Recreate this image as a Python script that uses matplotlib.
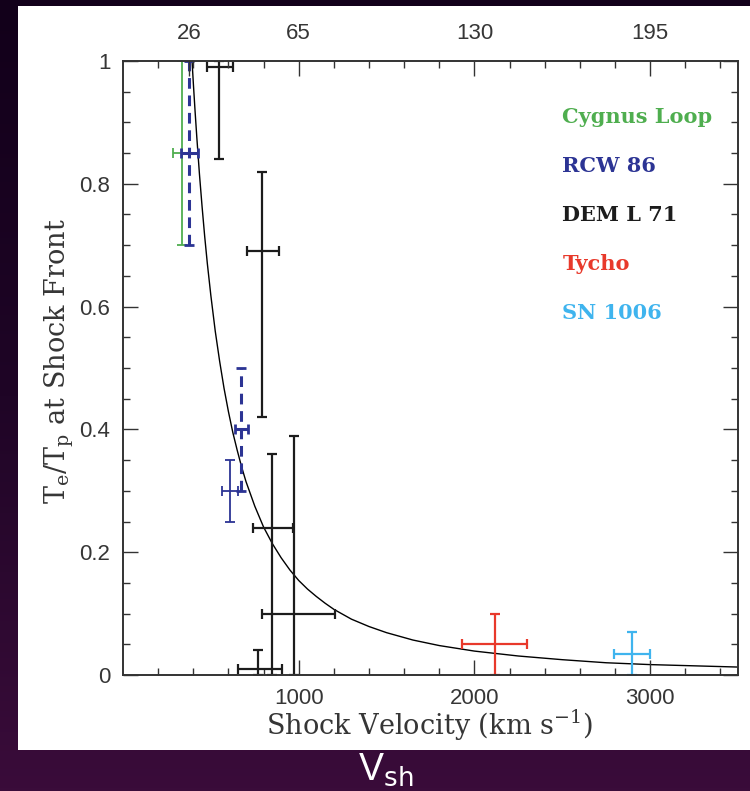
import numpy as np
import matplotlib
matplotlib.use('Agg')
import matplotlib.pyplot as plt
from matplotlib.patches import Rectangle

# --- data (velocity in km/s, Te/Tp) ---
cyg_v = [334]
cyg_verr = [50]
cyg_ratio = [0.85]
cyg_rerr = [0.15]

rcw_dash_v = [376, 672]
rcw_dash_verr = [48, 37]
rcw_dash_ratio = [0.85, 0.40]
rcw_dash_rerr = [0.15, 0.10]

rcw_v = [609]
rcw_verr = [48]
rcw_ratio = [0.30]
rcw_rerr = [0.05]

dem_v = [546, 791, 847, 973, 768]
dem_verr_lo = [68, 86, 107, 182, 113]
dem_verr_hi = [80, 97, 121, 234, 137]
dem_ratio = [0.99, 0.69, 0.24, 0.10, 0.01]
dem_rerr_lo = [0.15, 0.27, 0.24, 0.10, 0.01]
dem_rerr_hi = [0.01, 0.13, 0.12, 0.29, 0.03]

tycho_v = [2115]
tycho_verr = [185]
tycho_ratio = [0.05]
tycho_rerr = [0.05]

sn1006_v = [2897]
sn1006_verr = [103]
sn1006_ratio = [0.035]
sn1006_rerr = [0.035]

# model curve, points
curve_v = [393, 400, 410, 420, 435, 450, 465, 480, 500, 525, 550, 575, 600,
           625, 650, 675, 700, 750, 800, 850, 900, 950, 1000, 1050, 1100,
           1150, 1200, 1300, 1400, 1500, 1650, 1800, 2000, 2250, 2500, 2750,
           3000, 3250, 3500]
curve_ratio = [1.000, 0.965, 0.919, 0.876, 0.816, 0.763, 0.714, 0.670, 0.618,
               0.560, 0.511, 0.467, 0.429, 0.395, 0.366, 0.339, 0.315, 0.275,
               0.241, 0.214, 0.191, 0.171, 0.154, 0.140, 0.128, 0.117, 0.107,
               0.091, 0.079, 0.069, 0.057, 0.048, 0.039, 0.031, 0.025, 0.020,
               0.017, 0.015, 0.013]

top_tick_pos = [375, 1000, 2000, 3000]
top_tick_labels = ['26', '65', '130', '195']

names = ['Cygnus Loop', 'RCW 86', 'DEM L 71', 'Tycho', 'SN 1006']
GREEN = '#4fae4f'
BLUE = '#2c3494'
BLACK = '#1c1c1c'
RED = '#e8392b'
CYAN = '#3fb4ee'
colors = [GREEN, BLUE, BLACK, RED, CYAN]
TEXT = '#363636'

SERIF = 'DejaVu Serif'
SANS = 'Liberation Sans'
plt.rcParams['mathtext.fontset'] = 'custom'
plt.rcParams['mathtext.rm'] = SERIF
plt.rcParams['mathtext.it'] = SERIF


def main():
    fig = plt.figure(figsize=(7.5, 7.91), dpi=100)

    # dark purple backdrop with the white panel on top
    bg = fig.add_axes([0, 0, 1, 1])
    grad = np.linspace(0, 1, 256)[:, None]
    cmap = matplotlib.colors.LinearSegmentedColormap.from_list(
        'bg', ['#3a0c3a', '#1f0526', '#12001a'])
    bg.imshow(grad, aspect='auto', cmap=cmap, extent=[0, 1, 0, 1], origin='lower')
    bg.add_patch(Rectangle((0.024, 0.052), 0.976, 0.9405, facecolor='white',
                           edgecolor='none'))
    bg.set_xlim(0, 1)
    bg.set_ylim(0, 1)
    bg.axis('off')

    ax = fig.add_axes([0.164, 0.1466, 0.82, 0.7763])
    ax.set_facecolor('white')

    ax.plot(curve_v, curve_ratio, color='black', lw=1.0, zorder=1)

    kw = dict(fmt='none', capsize=3.5, elinewidth=1.3, capthick=1.3)
    ax.errorbar(cyg_v, cyg_ratio, xerr=cyg_verr, yerr=cyg_rerr, ecolor=GREEN, **kw)
    eb = ax.errorbar(rcw_dash_v, rcw_dash_ratio, xerr=rcw_dash_verr,
                     yerr=rcw_dash_rerr, ecolor=BLUE, fmt='none', capsize=3.5,
                     elinewidth=2.2, capthick=2.0)
    eb[2][1].set_linestyle((0, (3.5, 2.2)))
    ax.errorbar(rcw_v, rcw_ratio, xerr=rcw_verr, yerr=rcw_rerr, ecolor=BLUE, **kw)
    ax.errorbar(dem_v, dem_ratio, xerr=[dem_verr_lo, dem_verr_hi],
                yerr=[dem_rerr_lo, dem_rerr_hi], ecolor=BLACK, fmt='none',
                capsize=3.5, elinewidth=1.6, capthick=1.6)
    ax.errorbar(tycho_v, tycho_ratio, xerr=tycho_verr, yerr=tycho_rerr,
                ecolor=RED, fmt='none', capsize=3.5, elinewidth=1.6, capthick=1.6)
    ax.errorbar(sn1006_v, sn1006_ratio, xerr=sn1006_verr, yerr=sn1006_rerr,
                ecolor=CYAN, fmt='none', capsize=3.5, elinewidth=1.6, capthick=1.6)

    ax.set_xlim(0, 3500)
    ax.set_ylim(0, 1)
    ax.set_xticks([1000, 2000, 3000])
    ax.set_xticklabels(['1000', '2000', '3000'])
    ax.set_xticks(np.arange(200, 3500, 200), minor=True)
    ax.set_yticks([0, 0.2, 0.4, 0.6, 0.8, 1.0])
    ax.set_yticklabels(['0', '0.2', '0.4', '0.6', '0.8', '1'])
    ax.set_yticks(np.arange(0.05, 1.0, 0.05), minor=True)
    ax.tick_params(which='both', direction='in', right=True, width=1.0,
                   color='#333333', labelsize=16, labelcolor=TEXT, pad=9)
    ax.tick_params(which='major', length=11)
    ax.tick_params(which='minor', length=5)
    for lab in ax.get_xticklabels() + ax.get_yticklabels():
        lab.set_family(SANS)
    for sp in ax.spines.values():
        sp.set_linewidth(1.4)
        sp.set_color('#333333')

    top = ax.twiny()
    top.set_xlim(ax.get_xlim())
    top.set_xticks(top_tick_pos)
    top.set_xticklabels(top_tick_labels, family=SANS)
    top.set_xticks(np.arange(200, 3500, 200), minor=True)
    top.tick_params(which='both', direction='in', width=1.0, color='#333333',
                    labelsize=16, labelcolor=TEXT, pad=12)
    top.tick_params(which='major', length=11)
    top.tick_params(which='minor', length=5)
    for sp in top.spines.values():
        sp.set_visible(False)

    # labels of the remnants
    for i, (name, c) in enumerate(zip(names, colors)):
        ax.text(2500, 0.909 - i * 0.0798, name, color=c, family=SERIF,
                weight='bold', fontsize=15, va='center', ha='left')

    fig.text(0.573, 0.083, r'Shock Velocity (km s$^{-1}$)', family=SERIF,
             fontsize=19.5, color=TEXT, ha='center', va='center')
    fig.text(0.079, 0.543, r'T$_{\rm e}$/T$_{\rm p}$ at Shock Front', family=SERIF,
             fontsize=19.5, color=TEXT, ha='center', va='center', rotation=90)

    fig.text(0.477, 0.014, r'V$_{\mathsf{sh}}$', family=SANS, fontsize=27,
             color='white', ha='left', va='baseline',
             math_fontfamily='dejavusans')

    fig.savefig('out.png', dpi=100)


if __name__ == "__main__":
    main()
